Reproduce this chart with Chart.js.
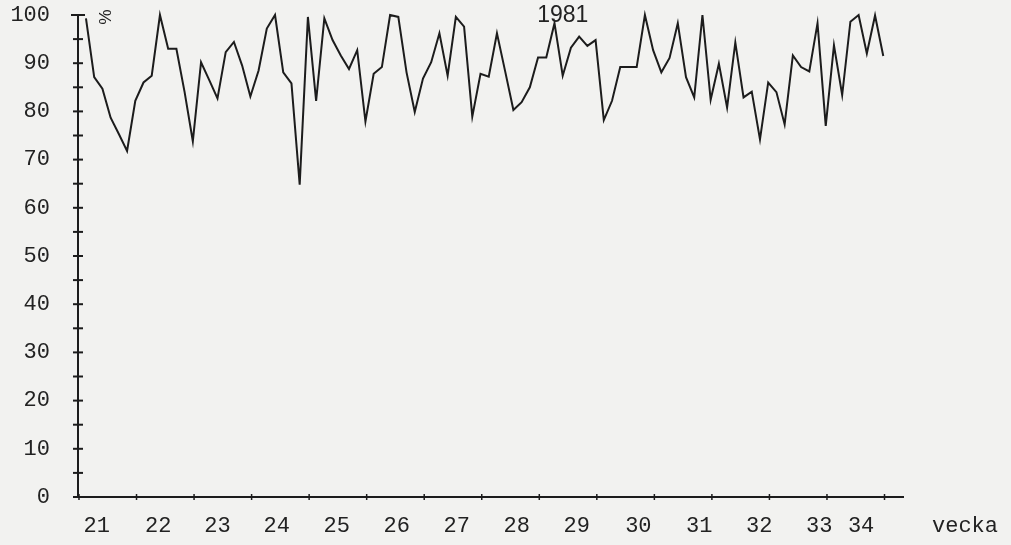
<!DOCTYPE html>
<html>
<head>
<meta charset="utf-8">
<script src="https://cdn.jsdelivr.net/npm/chart.js@4/dist/chart.umd.min.js"></script>
<style>
  html, body { margin: 0; padding: 0; background: #f2f2f0; }
  #wrap { width: 1011px; height: 545px; position: relative; }
</style>
</head>
<body>
<div id="wrap"><canvas id="c"></canvas></div>
<script>
// Daily share (%) over weeks 21-34, 1981 — one value per day
const dailyPercent = [
  99.3, 87.1, 84.7, 78.7, 75.3, 71.8, 82.2,
  86.0, 87.4, 100, 93.0, 93.0, 84.0, 73.8,
  90.2, 86.5, 82.7, 92.3, 94.4, 89.5, 83.1,
  88.5, 97.2, 100, 88.1, 85.8, 64.8, 99.6,
  82.2, 99.3, 94.8, 91.6, 88.8, 92.7, 77.9,
  87.8, 89.2, 100, 99.6, 88.1, 79.9, 86.8,
  90.2, 96.2, 87.4, 99.6, 97.6, 78.9, 87.8,
  87.2, 96.2, 88.3, 80.3, 81.9, 85.0, 91.2,
  91.2, 98.3, 87.4, 93.2, 95.5, 93.6, 94.8,
  78.2, 82.2, 89.2, 89.2, 89.2, 100, 92.7,
  88.1, 91.1, 98.3, 87.1, 82.9, 100, 82.4,
  89.9, 80.8, 94.3, 82.9, 84.1, 74.2, 86.0,
  84.0, 77.3, 91.6, 89.2, 88.3, 98.3, 77.0,
  93.7, 83.4, 98.6, 100, 92.0, 99.9, 91.5
];

// Week numbers shown under the time axis
const weekLabels = ['21','22','23','24','25','26','27','28','29','30','31','32','33','34'];
// Where each week number sits along the day axis
const weekLabelDay = [1.3, 8.8, 16.0, 23.2, 30.5, 37.8, 45.1, 52.4, 59.7, 67.2, 74.6, 81.9, 89.2, 94.3];
// Value-axis labels
const yTickValues = [0, 10, 20, 30, 40, 50, 60, 70, 80, 90, 100];

const INK = '#1c1c1c';
const FONT = '"Liberation Mono", "DejaVu Sans Mono", monospace';

const points = dailyPercent.map((v, i) => ({ x: i, y: v }));

// Axis decorations: crossing tick marks, axis stub, unit sign, year and axis name
const decor = {
  id: 'decor',
  afterDraw(chart) {
    const { ctx, chartArea: a, scales: { x, y } } = chart;
    ctx.save();
    ctx.strokeStyle = INK;
    ctx.lineWidth = 2;
    // x axis runs slightly past the value axis on the left
    ctx.beginPath();
    ctx.moveTo(a.left - 5, a.bottom);
    ctx.lineTo(a.left, a.bottom);
    ctx.stroke();
    // value-axis ticks every 5 %
    for (let v = 5; v <= 100; v += 5) {
      const py = y.getPixelForValue(v);
      const half = v === 100 ? 7 : 5;
      ctx.beginPath();
      ctx.moveTo(a.left - half, py);
      ctx.lineTo(a.left + half, py);
      ctx.stroke();
    }
    // week boundaries on the time axis
    ctx.lineWidth = 1.5;
    for (let k = 0; k <= 14; k++) {
      const px = x.getPixelForValue(7 * k - 0.85);
      ctx.beginPath();
      ctx.moveTo(px, a.bottom - 3);
      ctx.lineTo(px, a.bottom + 3);
      ctx.stroke();
    }
    ctx.fillStyle = '#222';
    // axis name
    ctx.font = '22px ' + FONT;
    ctx.textAlign = 'center';
    ctx.textBaseline = 'middle';
    ctx.fillText('vecka', a.right + 62, a.bottom + 29);
    // year
    ctx.font = '23px "Liberation Sans", Arial, sans-serif';
    ctx.fillText('1981', x.getPixelForValue(58), a.top + 1);
    // unit sign, set sideways
    ctx.save();
    ctx.translate(a.left + 26, a.top + 2);
    ctx.rotate(Math.PI / 2);
    ctx.font = '17px "Liberation Sans", Arial, sans-serif';
    ctx.fillText('%', 0, 0);
    ctx.restore();
    ctx.restore();
  }
};

new Chart(document.getElementById('c'), {
  type: 'line',
  data: {
    datasets: [{
      data: points,
      borderColor: INK,
      borderWidth: 2,
      pointRadius: 0,
      tension: 0,
      fill: false,
      clip: false
    }]
  },
  options: {
    responsive: true,
    maintainAspectRatio: false,
    animation: false,
    events: [],
    layout: { padding: { top: 15, right: 108, left: 0, bottom: 0 } },
    plugins: { legend: { display: false }, tooltip: { enabled: false } },
    scales: {
      x: {
        type: 'linear',
        min: -0.97,
        max: 99.4,
        grid: { display: false, drawTicks: false },
        border: { display: true, color: INK, width: 2 },
        afterBuildTicks: (s) => { s.ticks = weekLabelDay.map(v => ({ value: v })); },
        afterFit: (s) => { s.height = 48; s.paddingLeft = 0; s.paddingRight = 0; },
        ticks: {
          autoSkip: false,
          maxRotation: 0,
          padding: 16,
          color: '#222',
          font: { family: FONT, size: 22 },
          callback: (v, i) => weekLabels[i]
        }
      },
      y: {
        min: 0,
        max: 100,
        grid: { display: false, drawTicks: false },
        border: { display: true, color: INK, width: 2 },
        afterBuildTicks: (s) => { s.ticks = yTickValues.map(v => ({ value: v })); },
        afterFit: (s) => { s.width = 78; s.paddingTop = 0; s.paddingBottom = 0; },
        ticks: {
          padding: 28,
          color: '#222',
          font: { family: FONT, size: 22 }
        }
      }
    }
  },
  plugins: [decor]
});
</script>
</body>
</html>
